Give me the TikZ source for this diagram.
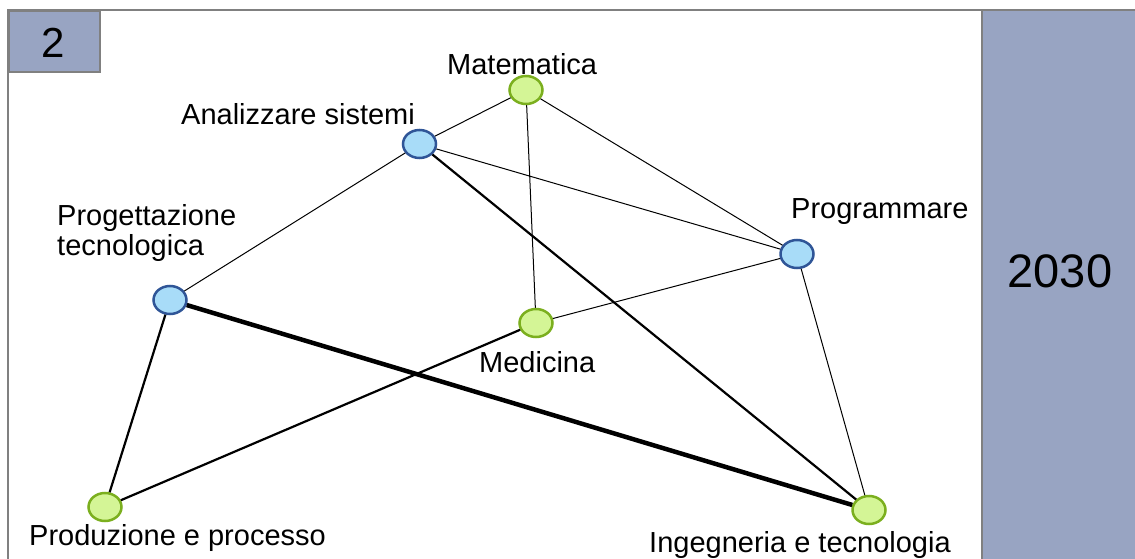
\documentclass[tikz,border=0pt]{standalone}
\usepackage{fontspec}
\setmainfont{Liberation Sans}
\usetikzlibrary{shapes.geometric}
\definecolor{panel}{HTML}{98A4C2}
\definecolor{frame}{HTML}{808080}
\definecolor{gfill}{HTML}{D4F596}
\definecolor{gline}{HTML}{7BAF1E}
\definecolor{bfill}{HTML}{A8DCF8}
\definecolor{bline}{HTML}{2F5597}
\tikzset{
  gnode/.style={ellipse, draw=gline, fill=gfill, line width=2.5pt, minimum width=33pt, minimum height=28pt, inner sep=0pt},
  bnode/.style={ellipse, draw=bline, fill=bfill, line width=2.5pt, minimum width=33pt, minimum height=28pt, inner sep=0pt},
  lbl/.style={font=\fontsize{29}{30}\selectfont, inner sep=0pt, anchor=base west},
  thinedge/.style={line width=1pt, black},
  midedge/.style={line width=2.2pt, black},
  thickedge/.style={line width=4.5pt, black}
}
\begin{document}
\begin{tikzpicture}[x=1pt,y=-1pt]
\useasboundingbox (0,0) rectangle (1135,559);
\fill[white] (0,0) rectangle (1135,559);
% right panel
\fill[panel] (982,10) rectangle (1135,559);
\draw[frame, line width=2pt] (982,10) -- (982,559);
\draw[frame, line width=2pt] (8,559) -- (8,10) -- (1135,10);
% number box
\node[draw=frame, fill=panel, line width=2pt, minimum width=91pt, minimum height=61pt, inner sep=0pt, anchor=north west] (numbox) at (8,10) {};
\node[font=\fontsize{42}{42}\selectfont, inner sep=0pt, anchor=base] (num) at (53,58) {2};
\node[font=\fontsize{47}{47}\selectfont, inner sep=0pt, anchor=base] (year) at (1060,287) {2030};
% nodes
\node[gnode] (mat) at (526,90) {};
\node[bnode] (ana) at (419.5,144) {};
\node[bnode] (pro) at (170,300) {};
\node[bnode] (prg) at (797,254) {};
\node[gnode] (med) at (536,323) {};
\node[gnode] (prd) at (105,507) {};
\node[gnode] (ing) at (869,510) {};
% edges
\draw[thinedge] (mat) -- (ana);
\draw[thinedge] (mat) -- (med);
\draw[thinedge] (mat) -- (prg);
\draw[thinedge] (ana) -- (pro);
\draw[thinedge] (ana) -- (prg);
\draw[midedge] (ana) -- (ing);
\draw[thickedge] (pro) -- (ing);
\draw[midedge] (pro) -- (prd);
\draw[midedge] (prd) -- (med);
\draw[thinedge] (med) -- (prg);
\draw[thinedge] (prg) -- (ing);
% labels
\node[lbl] (lmat) at (447,75) {Matematica};
\node[lbl] (lana) at (181,125) {Analizzare sistemi};
\node[lbl, align=left] (lpro) at (57,255) {Progettazione\\tecnologica};
\node[lbl] (lprg) at (791,218) {Programmare};
\node[lbl] (lmed) at (479,372) {Medicina};
\node[lbl] (lprd) at (29,545) {Produzione e processo};
\node[lbl] (ling) at (649,552) {Ingegneria e tecnologia};
\end{tikzpicture}
\end{document}
